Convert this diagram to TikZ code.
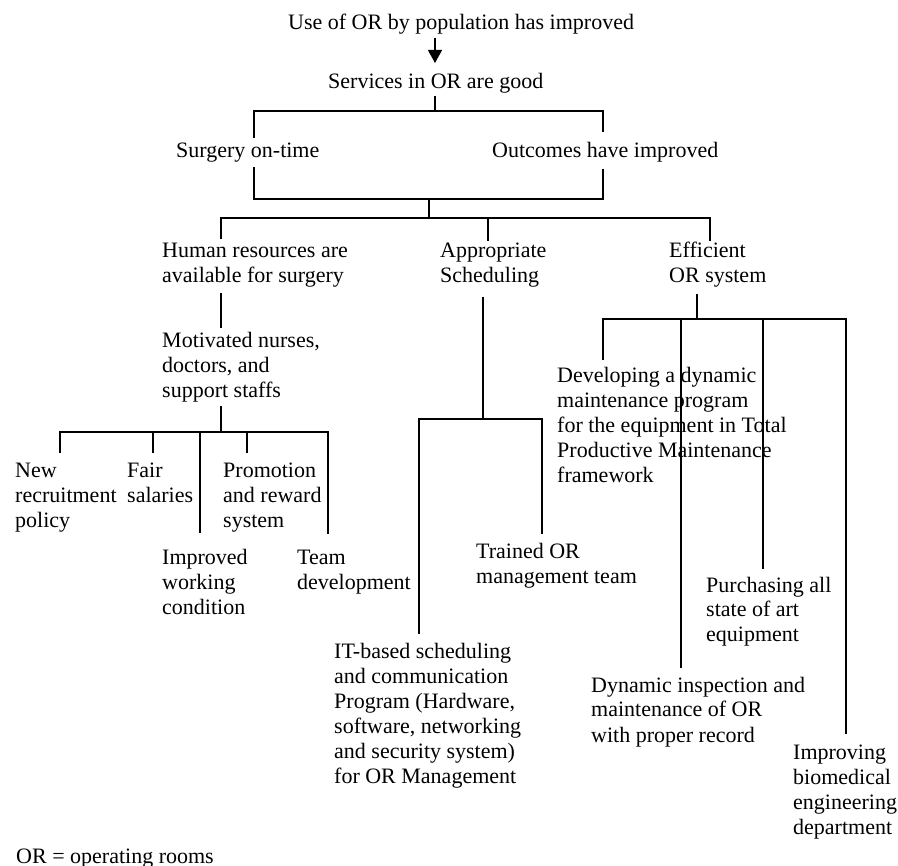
\documentclass[tikz,border=0pt]{standalone}
\usepackage{fontspec}
\setmainfont{Liberation Serif}
\usetikzlibrary{arrows.meta}
\begin{document}
\begin{tikzpicture}[x=1pt,y=-1pt,
  lbl/.style={anchor=base west,inner sep=0pt,align=left,font=\fontsize{22}{25}\selectfont},
  ln/.style={line width=1.1pt,line cap=rect},
  arr/.style={line width=1.3pt,-{Triangle[width=14pt,length=13pt]}}]
\useasboundingbox[fill=white] (0,0) rectangle (898,866);

% text nodes (anchor = baseline of the last line)
\node[lbl] (use) at (288,30) {Use of OR by population has improved};
\node[lbl] (serv) at (328,89) {Services in OR are good};
\node[lbl] (surg) at (176,158) {Surgery on-time};
\node[lbl] (outc) at (492,158) {Outcomes have improved};
\node[lbl] (hr) at (162,283) {Human resources are\\available for surgery};
\node[lbl] (sched) at (440,283) {Appropriate\\Scheduling};
\node[lbl] (eff) at (669,283) {Efficient\\OR system};
\node[lbl] (motiv) at (162,398) {Motivated nurses,\\doctors, and\\support staffs};
\node[lbl] (new) at (15,528) {New\\recruitment\\policy};
\node[lbl] (fair) at (127,503) {Fair\\salaries};
\node[lbl] (promo) at (223,528) {Promotion\\and reward\\system};
\node[lbl] (impr) at (162,615) {Improved\\working\\condition};
\node[lbl] (team) at (297,590) {Team\\development};
\node[lbl] (train) at (476,584) {Trained OR\\management team};
\node[lbl] (it) at (334,783) {IT-based scheduling\\and communication\\Program (Hardware,\\software, networking\\and security system)\\for OR Management};
\node[lbl] (dev) at (557,483) {Developing a dynamic\\maintenance program\\for the equipment in Total\\Productive Maintenance\\framework};
\node[lbl] (purch) at (706,642) {Purchasing all\\state of art\\equipment};
\node[lbl] (insp) at (591,742) {Dynamic inspection and\\maintenance of OR\\with proper record};
\node[lbl] (bio) at (793,834) {Improving\\biomedical\\engineering\\department};
\node[lbl] (note) at (16,863) {OR = operating rooms};

% arrow
\coordinate (a1) at (435,38);
\coordinate (a2) at (435,63);
\draw[arr] (a1) -- (a2);

% services -> surgery / outcomes
\coordinate (s0) at (435,97);
\coordinate (s1) at (435,111);
\coordinate (sL) at (254,137);
\coordinate (sR) at (603,131);
\draw[ln] (s0) -- (s1);
\draw[ln] (sL) |- (s1) -| (sR);

% surgery / outcomes -> bus
\coordinate (uL) at (254,168);
\coordinate (uR) at (603,170);
\coordinate (uM) at (429,199);
\coordinate (uB) at (429,218);
\draw[ln] (uL) |- (uM) -| (uR);
\draw[ln] (uM) -- (uB);

% bus to three branches
\coordinate (b1) at (221,238);
\coordinate (b2) at (488,240);
\coordinate (b3) at (710,240);
\draw[ln] (b1) |- (uB) -| (b3);
\draw[ln] (b2) -- (488,218);

% HR branch
\coordinate (h0) at (221,294);
\coordinate (h1) at (221,327);
\draw[ln] (h0) -- (h1);
\coordinate (m0) at (221,407);
\coordinate (m1) at (221,432);
\draw[ln] (m0) -- (m1);
\coordinate (hn) at (60,452);
\coordinate (hf) at (153,452);
\coordinate (hi) at (200,532);
\coordinate (hp) at (247,452);
\coordinate (ht) at (328,533);
\draw[ln] (hn) |- (m1) -| (ht);
\draw[ln] (hf) -- (153,432);
\draw[ln] (hi) -- (200,432);
\draw[ln] (hp) -- (247,432);

% Scheduling branch
\coordinate (c0) at (483,298);
\coordinate (c1) at (483,419);
\coordinate (cl) at (419,633);
\coordinate (cr) at (542,533);
\draw[ln] (c0) -- (c1);
\draw[ln] (cl) |- (c1) -| (cr);

% Efficient branch
\coordinate (e0) at (697,295);
\coordinate (e1) at (697,319);
\coordinate (ed) at (603,359);
\coordinate (ei) at (681,667);
\coordinate (ep) at (763,568);
\coordinate (eb) at (846,733);
\draw[ln] (e0) -- (e1);
\draw[ln] (ed) |- (e1) -| (eb);
\draw[ln] (ei) -- (681,319);
\draw[ln] (ep) -- (763,319);
\end{tikzpicture}
\end{document}
